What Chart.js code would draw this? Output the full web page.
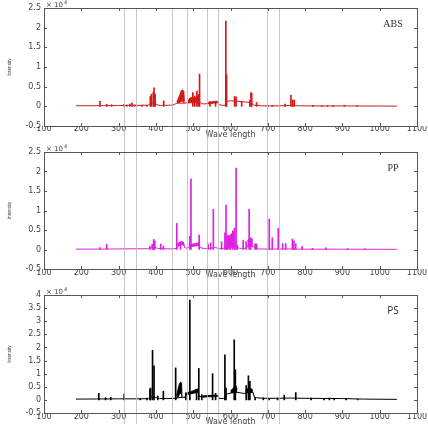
<!DOCTYPE html>
<html><head><meta charset="utf-8">
<script src="https://cdn.jsdelivr.net/npm/chart.js@4/dist/chart.umd.min.js"></script>
<style>
html,body{margin:0;padding:0;background:#fff;overflow:hidden;width:428px;height:424px;}
canvas{position:absolute;left:0;}
</style></head><body>
<canvas id="c1" width="428" height="140" style="top:0px"></canvas>
<canvas id="c2" width="428" height="140" style="top:140px"></canvas>
<canvas id="c3" width="428" height="147" style="top:280px"></canvas>
<script>
// ---------- data (intensity in counts; axis shows x 10^4) ----------
const panelNames = ['ABS', 'PP', 'PS'];
const waveMin = 100, waveMax = 1100;
const boxEdges = [314, 347, 443, 483, 537, 566, 698, 730];   // grey marker boxes (wavelength)

// continuum [wavelength, intensity]
const absBase = [[186,150],[240,150],[300,200],[360,250],[380,300],[386,700],[392,900],[400,600],[406,300],[412,250],[430,250],[440,300],[450,500],[456,800],[478,800],[484,900],[520,900],[522,700],[530,600],[545,800],[560,1000],[566,1100],[570,400],[578,250],[585,250],[591,1300],[600,1400],[620,1300],[640,1100],[650,1000],[656,900],[662,300],[680,150],[700,100],[740,150],[760,250],[780,150],[820,100],[900,100],[1000,80],[1046,50]];
// dense bands [wavelength, low, high]
const absBands = [
  [[456,800,1200],[460,900,2000],[464,1000,3000],[468,1200,4000],[472,1200,4200],[475,1000,3800],[477,800,1200]],
  [[486,900,1500],[492,1000,2200],[498,1100,2300],[504,1100,2100],[510,1200,2500],[516,1300,2600],[519,1300,2800]],
  [[540,600,1000],[553,800,1200],[566,900,1300]]
];
// spikes [wavelength, intensity]
const absPeaks = [[250,1300],[268,500],[281,400],[315,500],[322,350],[330,600],[336,900],[343,400],[363,300],[376,250],[385,2500],[388,3100],[393,3600],[395,4700],[398,3100],[421,1400],[499,3500],[504,2600],[510,3900],[514,3000],[517,8200],[545,1200],[560,1300],[587.5,21700],[589.5,8000],[611,2500],[615,2400],[630,1200],[652,1600],[655,3500],[657,3300],[670,1000],[700,200],[712,250],[746,600],[762,2800],[767,1600],[771,1600],[821,250],[845,150],[860,200],[875,200],[905,300],[940,200]];

const ppBase = [[186,100],[240,100],[300,150],[380,200],[388,500],[396,700],[404,300],[420,200],[440,150],[455,250],[460,800],[466,1200],[470,1700],[474,1800],[477,500],[484,300],[490,800],[505,1000],[515,1400],[519,500],[530,200],[545,300],[560,500],[570,200],[580,300],[590,400],[616,600],[625,300],[640,300],[645,800],[660,800],[664,500],[670,400],[675,150],[700,100],[760,150],[780,100],[900,80],[1046,50]];
const ppBands = [
  [[457,800,1500],[462,1000,1800],[468,1200,2000],[472,1200,2000],[476,800,1600]],
  [[489,700,1200],[497,800,1400],[505,900,1500],[514,1000,1700],[518,1000,1800]],
  [[593,500,3300],[598,600,3500],[603,700,4100],[608,700,4500],[613,800,5400]],
  [[645,700,2200],[650,700,2800],[655,700,2800],[660,700,2600]],
  [[664,300,1400],[670,300,1400]]
];
const ppPeaks = [[250,500],[268,1300],[384,800],[390,1300],[394,2600],[397,2200],[413,1400],[420,900],[456,6700],[466,2000],[491,3400],[494,18100],[516,3700],[540,1400],[547,1700],[554,10300],[576,2000],[585,4300],[588,11400],[591,3700],[596,3500],[600,3700],[606,4800],[611,5500],[615,20900],[618,1200],[634,2400],[642,2000],[650,10300],[654,3000],[666,1400],[670,1400],[704,7800],[712,3000],[728,5500],[740,1500],[748,1500],[766,2700],[770,2200],[775,1500],[792,800],[820,300],[856,400],[914,200],[960,200]];

const psBase = [[186,300],[240,350],[300,400],[360,400],[380,500],[390,1200],[398,1000],[410,500],[430,500],[450,600],[470,1000],[478,1000],[482,2200],[513,3500],[516,1200],[524,1200],[530,1500],[560,1700],[566,1500],[570,500],[585,600],[590,2200],[600,2600],[615,3000],[630,2600],[640,2400],[645,2800],[660,3000],[664,1000],[670,800],[690,600],[720,600],[760,700],[800,600],[900,500],[960,300],[1046,200]];
const psBands = [
  [[455,600,1500],[459,1000,4000],[463,2000,6200],[466,2500,6700],[469,2000,6500],[470,800,1200]],
  [[482,2000,2700],[490,2200,3000],[500,2500,3500],[508,2700,4000],[513,3000,4200]],
  [[525,1000,1500],[545,1200,1700],[565,1300,1800]],
  [[600,2600,3500],[608,2800,4500],[613,3000,6000],[618,2800,4000]],
  [[640,2400,3500],[648,2800,4500],[655,2800,4300],[660,2800,3800]]
];
const psPeaks = [[247,2500],[265,800],[279,1000],[315,2200],[358,500],[376,700],[384,4200],[386,4500],[391,18900],[395,13000],[405,1500],[420,3300],[453,12200],[480,2700],[491,38100],[509,4000],[515,12000],[523,2000],[552,10000],[560,2500],[585,17200],[588,4500],[610,22900],[613,11500],[642,5500],[648,9200],[652,7100],[666,1000],[688,800],[704,500],[726,700],[744,1800],[775,2800],[816,700],[851,600],[865,700],[878,500],[910,600],[941,200]];

const yMaxes = [25000, 25000, 40000];
const yMin = -5000;

// ---------- drawing ----------
const TXT = '#444';
const decor = {
  id: 'decor',
  afterDraw(chart, args, o) {
    const {ctx, chartArea: a, scales: {x, y}} = chart;
    ctx.save();
    // grey boxes
    ctx.strokeStyle = 'rgba(185,185,185,0.8)';
    ctx.lineWidth = 1;
    ctx.beginPath();
    const y0 = o.boxTop ? a.top : 0;
    boxEdges.forEach(w => {
      const px = Math.round(x.getPixelForValue(w)) + 0.5;
      ctx.moveTo(px, y0); ctx.lineTo(px, chart.height);
    });
    if (o.boxTop) {
      for (let i = 0; i < boxEdges.length; i += 2) {
        ctx.moveTo(Math.round(x.getPixelForValue(boxEdges[i])), Math.round(a.top) + 0.5);
        ctx.lineTo(Math.round(x.getPixelForValue(boxEdges[i + 1])) + 1, Math.round(a.top) + 0.5);
      }
    }
    ctx.stroke();
    // frame + inward ticks
    ctx.strokeStyle = '#555';
    ctx.lineWidth = 1;
    ctx.beginPath();
    x.ticks.forEach(t => {
      const px = Math.round(x.getPixelForValue(t.value)) + 0.5;
      ctx.moveTo(px, a.bottom); ctx.lineTo(px, a.bottom - 3);
      ctx.moveTo(px, a.top); ctx.lineTo(px, a.top + 3);
    });
    y.ticks.forEach(t => {
      const py = Math.round(y.getPixelForValue(t.value)) + 0.5;
      ctx.moveTo(a.left, py); ctx.lineTo(a.left + 3, py);
      ctx.moveTo(a.right, py); ctx.lineTo(a.right - 3, py);
    });
    ctx.stroke();
    ctx.strokeRect(Math.round(a.left) + 0.5, Math.round(a.top) + 0.5, Math.round(a.right - a.left), Math.round(a.bottom - a.top));
    // x 10^4
    ctx.fillStyle = TXT;
    ctx.textBaseline = 'alphabetic';
    ctx.textAlign = 'left';
    ctx.font = '7px "DejaVu Sans"';
    ctx.fillText('\u00d7 10', a.left + 2, a.top - 1);
    const w10 = ctx.measureText('\u00d7 10').width;
    ctx.font = '5px "DejaVu Sans"';
    ctx.fillText('4', a.left + 3 + w10, a.top - 4);
    // Intensity
    ctx.save();
    ctx.translate(9, (a.top + a.bottom) / 2);
    ctx.rotate(-Math.PI / 2);
    ctx.scale(0.78, 1);
    ctx.font = '6px "Liberation Sans"';
    ctx.textAlign = 'center';
    ctx.textBaseline = 'middle';
    ctx.fillText('Intensity', 0, 0);
    ctx.restore();
    // panel label
    ctx.font = o.labelFont;
    ctx.textAlign = 'center';
    ctx.textBaseline = 'middle';
    ctx.fillStyle = '#333';
    ctx.fillText(o.label, 393, a.top + 16.5);
    ctx.restore();
  }
};

function makeChart(id, base, bands, peaks, color, yMax, padTop, xHeight, tickPad, label, labelFont, boxTop) {
  const datasets = [];
  datasets.push({
    type: 'bar', data: peaks.map(p => ({x: p[0], y: p[1]})),
    backgroundColor: color, borderWidth: 0, barThickness: 1, order: 1
  });
  datasets.push({
    type: 'line', data: base.map(p => ({x: p[0], y: p[1]})),
    borderColor: color, borderWidth: 1, pointRadius: 0, tension: 0, fill: false, order: 2
  });
  bands.forEach(b => {
    datasets.push({
      type: 'line', data: b.map(p => ({x: p[0], y: p[2]})),
      borderColor: color, backgroundColor: color, borderWidth: 0.8, pointRadius: 0, tension: 0, fill: '+1', order: 3
    });
    datasets.push({
      type: 'line', data: b.map(p => ({x: p[0], y: p[1]})),
      borderColor: color, borderWidth: 0.8, pointRadius: 0, tension: 0, fill: false, order: 3
    });
  });
  return new Chart(document.getElementById(id), {
    type: 'bar',
    data: {datasets},
    options: {
      responsive: false, animation: false, devicePixelRatio: 1,
      layout: {padding: {top: padTop, right: 11, left: 0, bottom: 0}},
      plugins: {legend: {display: false}, tooltip: {enabled: false},
        decor: {label, labelFont, boxTop}},
      scales: {
        x: {
          type: 'linear', min: waveMin, max: waveMax, offset: false,
          grid: {display: false, drawTicks: false, offset: false}, border: {display: false},
          ticks: {stepSize: 100, autoSkip: false, maxRotation: 0, padding: tickPad, color: TXT,
            font: {family: 'DejaVu Sans', size: 8},
            callback: v => String(v)},
          title: {display: true, text: 'Wave length', color: TXT, padding: 0,
            font: {family: 'DejaVu Sans', size: 8}},
          afterFit: s => { s.height = xHeight; }
        },
        y: {
          type: 'linear', min: yMin, max: yMax,
          grid: {display: false, drawTicks: false}, border: {display: false},
          ticks: {stepSize: 5000, autoSkip: false, padding: 3, color: TXT,
            font: {family: 'DejaVu Sans', size: 8},
            callback: v => String(v / 1e4)},
          afterFit: s => { s.width = 44; }
        }
      }
    },
    plugins: [decor]
  });
}

makeChart('c1', absBase, absBands, absPeaks, '#d01a1a', yMaxes[0], 8, 14, -2, panelNames[0], '10px "Liberation Serif"', true);
makeChart('c2', ppBase, ppBands, ppPeaks, '#dd22dd', yMaxes[1], 12, 11, -1, panelNames[1], '10px "Liberation Serif"', false);
makeChart('c3', psBase, psBands, psPeaks, '#000000', yMaxes[2], 15, 14, -1, panelNames[2], '10px "Noto Sans"', false);
</script>
</body></html>
